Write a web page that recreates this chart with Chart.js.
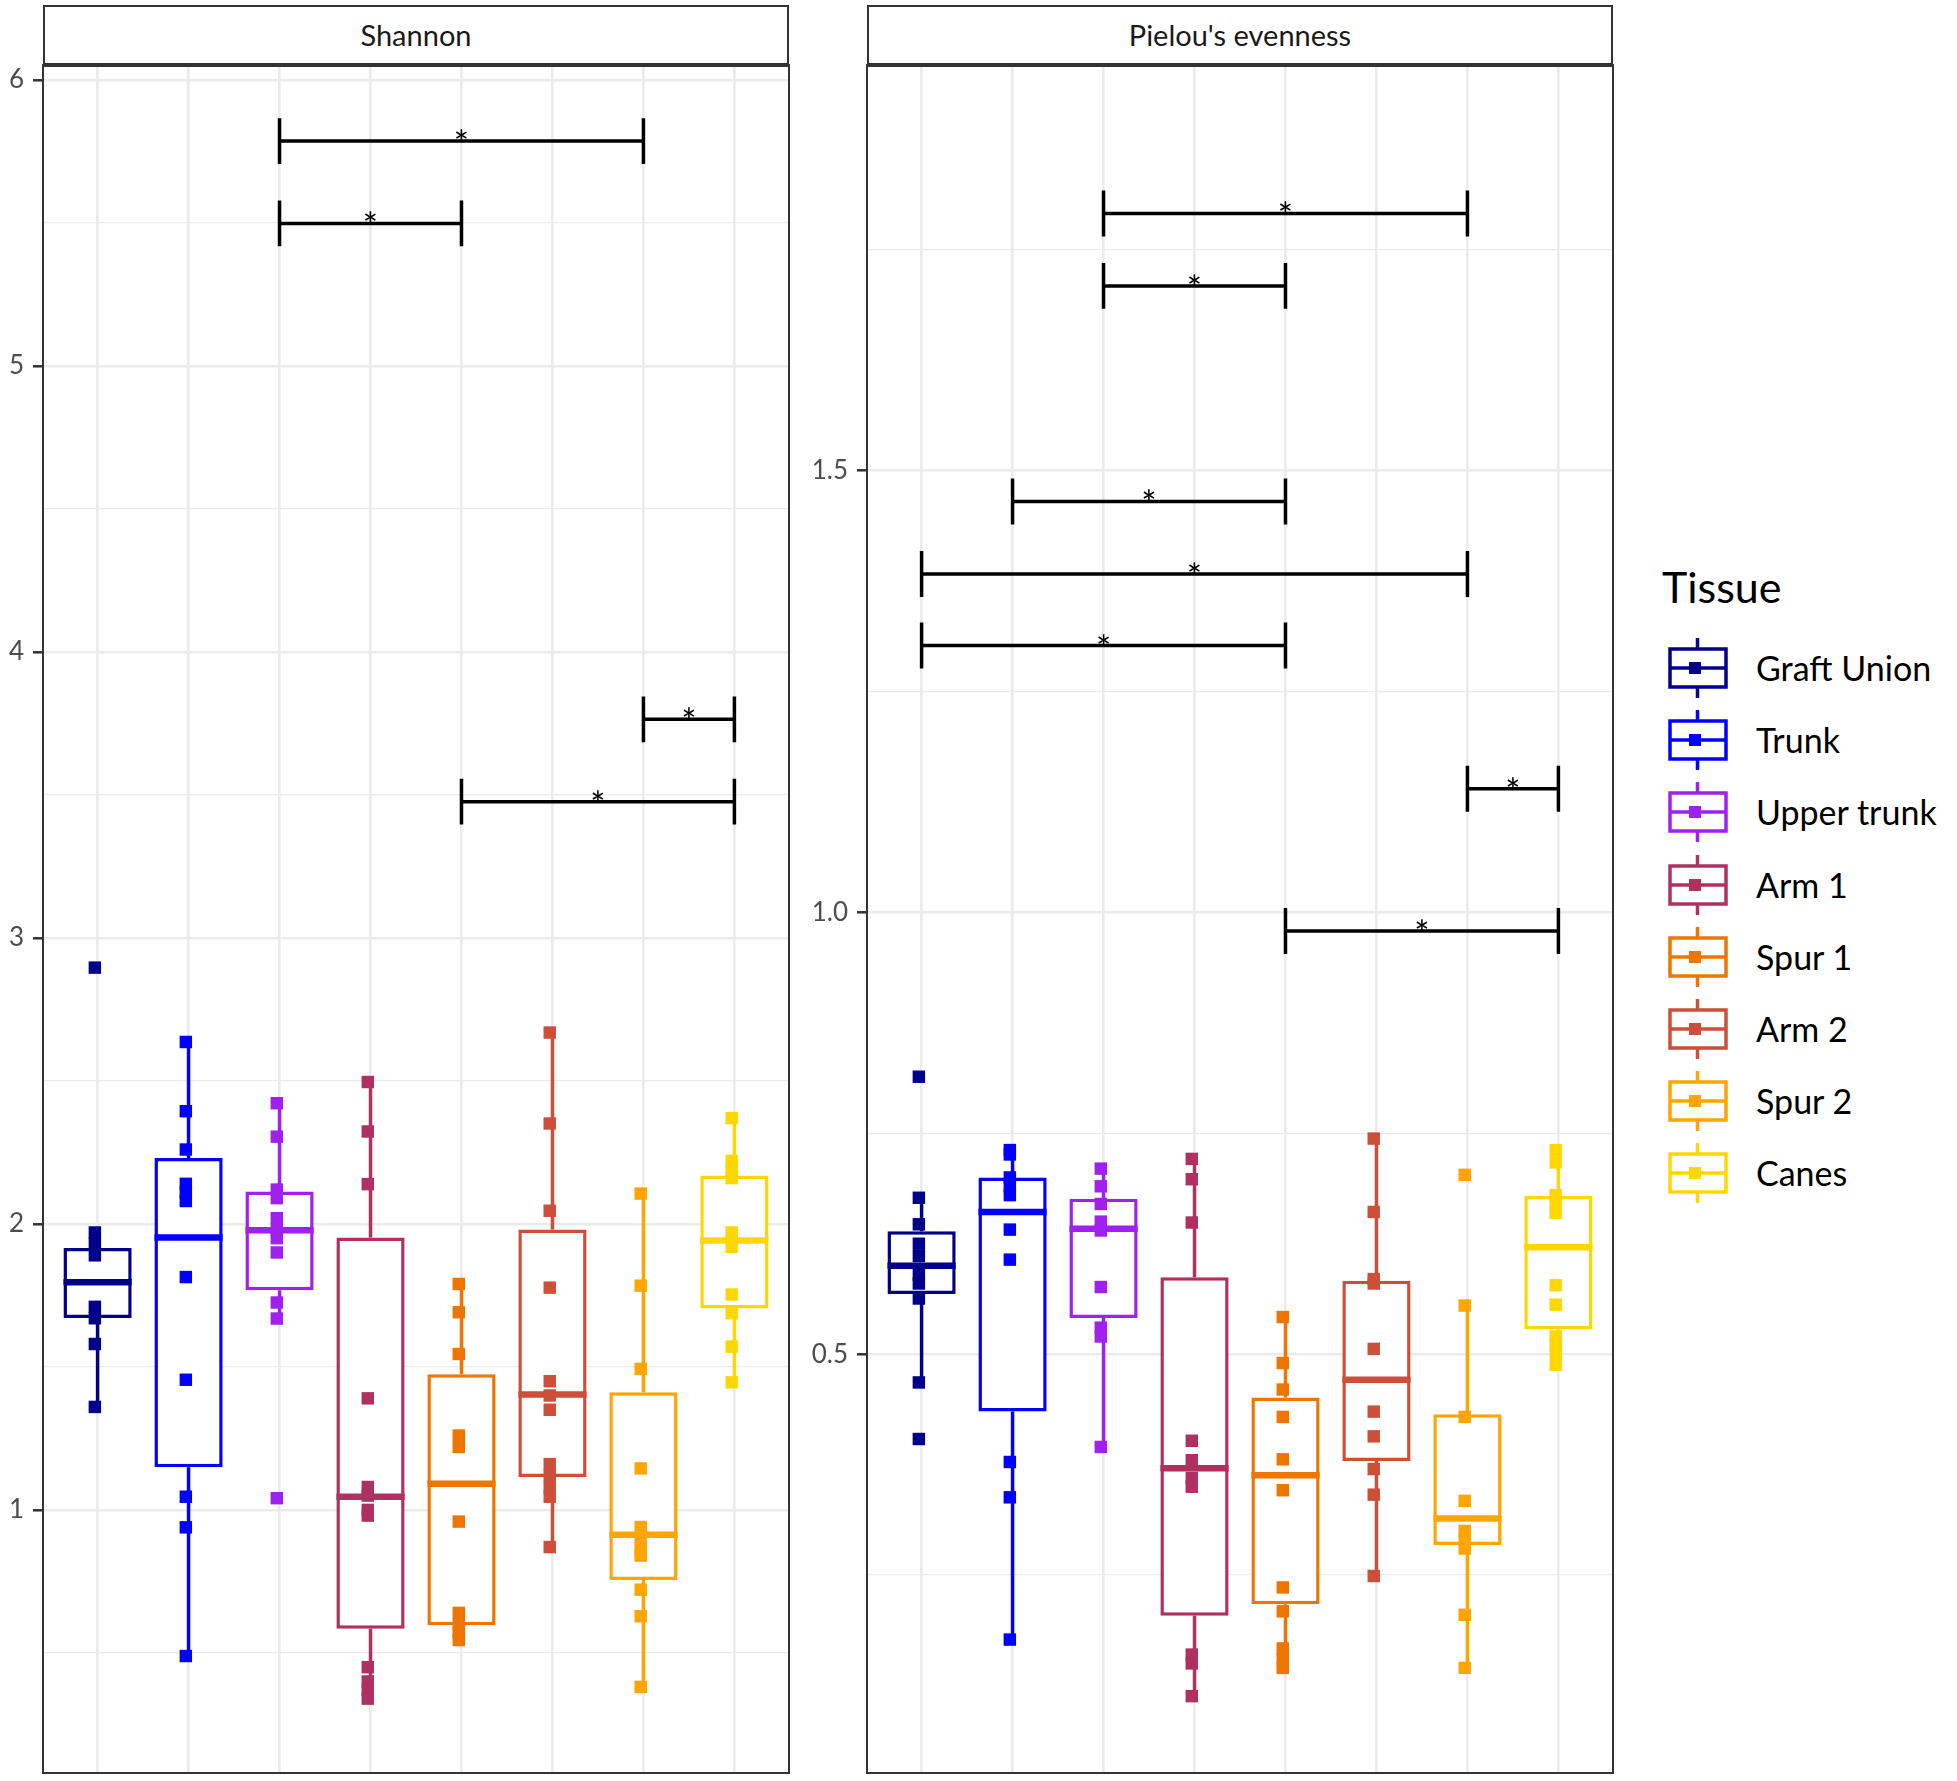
<!DOCTYPE html>
<html><head><meta charset="utf-8">
<script src="https://cdn.jsdelivr.net/npm/chart.js@4.4.1/dist/chart.umd.min.js"></script>
<style>
html,body{margin:0;padding:0;background:#fff;}
body{width:1957px;height:1781px;position:relative;overflow:hidden;font-family:Lato,'Open Sans',sans-serif;}
.strip{position:absolute;box-sizing:border-box;background:#fff;border:2px solid #333;border-bottom:4px solid #333;text-align:center;color:#1a1a1a;font-size:29px;}
canvas{position:absolute;}
.ltitle{position:absolute;font-size:43px;color:#000;line-height:50px;}
.lrow{position:absolute;height:72px;}
.lrow span{position:absolute;left:89px;top:0;line-height:72px;font-size:34px;color:#000;white-space:nowrap;}
.lrow canvas{position:absolute;left:0;top:0;}
</style></head>
<body>
<canvas id="c1" width="795" height="1720" style="left:0px;top:60px;width:795px;height:1720px"></canvas>
<canvas id="c2" width="840" height="1720" style="left:780px;top:60px;width:840px;height:1720px"></canvas>
<div class="strip" style="left:43px;top:5px;width:746px;height:62px;line-height:56px">Shannon</div>
<div class="strip" style="left:867px;top:5px;width:746px;height:62px;line-height:56px">Pielou's evenness</div>
<div id="legend"></div>
<script>
// ---------- data ----------
const tissues = ['Graft Union','Trunk','Upper trunk','Arm 1','Spur 1','Arm 2','Spur 2','Canes'];
const tissueColors = ['#00008B','#0000FF','#A020F0','#B03060','#EE7600','#CD4F39','#FFA500','#FFD700'];

// Shannon box statistics
const shannonQ1  = [1.671, 1.149, 1.768, 0.584, 0.597, 1.115, 0.755, 1.704];
const shannonMed = [1.796, 1.952, 1.978, 1.046, 1.091, 1.403, 0.913, 1.942];
const shannonQ3  = [1.916, 2.230, 2.113, 1.952, 1.474, 1.980, 1.411, 2.169];
const shannonLo  = [1.359, 0.489, 1.669, 0.340, 0.545, 0.870, 0.381, 1.446];
const shannonHi  = [1.970, 2.636, 2.422, 2.496, 1.790, 2.669, 2.106, 2.370];
const shannonPoints = [
  [2.896, 1.97, 1.93, 1.89, 1.71, 1.67, 1.58, 1.36],
  [2.636, 2.394, 2.26, 2.14, 2.11, 2.08, 1.814, 1.455, 1.046, 0.939, 0.489],
  [2.422, 2.305, 2.12, 2.09, 2.02, 1.98, 1.95, 1.90, 1.725, 1.669, 1.041],
  [2.496, 2.323, 2.139, 1.390, 1.08, 1.05, 1.00, 0.98, 0.45, 0.40, 0.37, 0.34],
  [1.79, 1.691, 1.545, 1.26, 1.22, 0.959, 0.64, 0.60, 0.57, 0.545],
  [2.669, 2.351, 2.046, 1.777, 1.45, 1.40, 1.35, 1.16, 1.12, 1.08, 1.046, 0.870],
  [2.106, 1.784, 1.493, 1.145, 0.94, 0.90, 0.86, 0.84, 0.721, 0.628, 0.381],
  [2.370, 2.22, 2.19, 2.16, 1.97, 1.94, 1.92, 1.753, 1.688, 1.571, 1.446]
];
const shannonSigFrom = [3, 3, 7, 5];
const shannonSigTo   = [7, 5, 8, 8];
const shannonSigY    = [5.786, 5.498, 3.764, 3.476];
const shannonMajorTicks = [1, 2, 3, 4, 5, 6];
const shannonMinorTicks = [0.5, 1.5, 2.5, 3.5, 4.5, 5.5];

// Pielou box statistics
const pielouQ1  = [0.568, 0.435, 0.541, 0.204, 0.217, 0.379, 0.284, 0.528];
const pielouMed = [0.600, 0.661, 0.642, 0.371, 0.363, 0.471, 0.314, 0.621];
const pielouQ3  = [0.639, 0.700, 0.676, 0.587, 0.451, 0.583, 0.432, 0.679];
const pielouLo  = [0.468, 0.177, 0.395, 0.113, 0.145, 0.249, 0.145, 0.484];
const pielouHi  = [0.677, 0.731, 0.710, 0.721, 0.542, 0.744, 0.555, 0.731];
const pielouPoints = [
  [0.814, 0.677, 0.647, 0.625, 0.611, 0.59, 0.58, 0.563, 0.468, 0.404],
  [0.731, 0.726, 0.70, 0.69, 0.68, 0.641, 0.607, 0.378, 0.338, 0.177],
  [0.710, 0.69, 0.67, 0.65, 0.64, 0.576, 0.53, 0.52, 0.395],
  [0.721, 0.698, 0.649, 0.402, 0.38, 0.36, 0.35, 0.16, 0.15, 0.113],
  [0.542, 0.490, 0.460, 0.429, 0.381, 0.346, 0.236, 0.209, 0.167, 0.155, 0.145],
  [0.744, 0.661, 0.585, 0.58, 0.506, 0.435, 0.407, 0.370, 0.341, 0.249],
  [0.703, 0.555, 0.429, 0.334, 0.30, 0.29, 0.28, 0.205, 0.145],
  [0.731, 0.717, 0.68, 0.67, 0.66, 0.578, 0.556, 0.52, 0.51, 0.50, 0.488]
];
const pielouSigFrom = [3, 3, 2, 1, 1, 7, 5];
const pielouSigTo   = [7, 5, 5, 7, 5, 8, 8];
const pielouSigY    = [1.791, 1.709, 1.465, 1.383, 1.302, 1.140, 0.979];
const pielouMajorTicks = [0.5, 1.0, 1.5];
const pielouMinorTicks = [0.25, 0.75, 1.25, 1.75];

const sigLabel = '*';

// ---------- rendering ----------
const BOX_HALF = 0.375;
const PT_SHIFT = -0.03;

function makePanel(canvasId, p) {
  const ds = [];
  // significance brackets
  p.sigFrom.forEach((f, k) => {
    const t = p.sigTo[k], y = p.sigY[k], tip = p.tip;
    ds.push({type:'line', order:0, data:[{x:f,y:y+tip},{x:f,y:y-tip},{x:f,y:y},{x:t,y:y},{x:t,y:y+tip},{x:t,y:y-tip}],
      borderColor:'#000', borderWidth:3.5, pointRadius:0, fill:false, tension:0, borderJoinStyle:'miter'});
  });
  tissues.forEach((name, i) => {
    const cx = i + 1, col = tissueColors[i];
    // points
    ds.push({type:'scatter', order:1, data:p.points[i].map(v => ({x:cx+PT_SHIFT, y:v})),
      pointStyle:'rect', pointRadius:8.8, backgroundColor:col, borderWidth:0, showLine:false});
    // median
    ds.push({type:'line', order:2, data:[{x:cx-BOX_HALF,y:p.med[i]},{x:cx+BOX_HALF,y:p.med[i]}],
      borderColor:col, borderWidth:6.5, pointRadius:0, fill:false, borderCapStyle:'butt'});
    // whiskers
    ds.push({type:'line', order:4, data:[{x:cx,y:p.lo[i]},{x:cx,y:p.q1[i]},{x:cx,y:null},{x:cx,y:p.q3[i]},{x:cx,y:p.hi[i]}],
      borderColor:col, borderWidth:3.5, pointRadius:0, fill:false, spanGaps:false});
  });
  // boxes
  ds.push({type:'bar', order:3, data:p.q1.map((a,i) => ({x:i+1, y:[a, p.q3[i]]})),
    backgroundColor:'#ffffff', borderColor:tissueColors, borderWidth:3.5, borderSkipped:false,
    barPercentage:0.75, categoryPercentage:1});

  const allTicks = p.minor.concat(p.major).sort((a,b)=>a-b);
  const isMajor = v => p.major.some(m => Math.abs(m - v) < 1e-9);

  const framePlugin = {
    id:'frame',
    afterDatasetsDraw(chart) {
      const ctx = chart.ctx, xs = chart.scales.x, ys = chart.scales.y;
      ctx.save();
      ctx.fillStyle = '#000';
      ctx.font = '36px Lato';
      ctx.textAlign = 'center';
      ctx.textBaseline = 'alphabetic';
      p.sigFrom.forEach((f, k) => {
        const x = xs.getPixelForValue((f + p.sigTo[k]) / 2);
        const y = ys.getPixelForValue(p.sigY[k]);
        ctx.fillText(sigLabel, x, y + 16);
      });
      ctx.restore();
    },
    afterDraw(chart) {
      const a = chart.chartArea, ctx = chart.ctx;
      ctx.save();
      ctx.strokeStyle = '#333';
      ctx.lineWidth = 2;
      ctx.strokeRect(a.left, a.top, a.right - a.left, a.bottom - a.top);
      ctx.restore();
    }
  };

  const noPad = s => { s.paddingTop = 0; s.paddingBottom = 0; s.paddingLeft = 0; s.paddingRight = 0; };

  return new Chart(document.getElementById(canvasId), {
    type:'line',
    data:{datasets:ds},
    options:{
      responsive:false, animation:false, devicePixelRatio:1, events:[],
      layout:{padding:p.padding, autoPadding:false},
      plugins:{legend:{display:false}, tooltip:{enabled:false}},
      scales:{
        x:{type:'linear', min:0.4, max:8.6, offset:false,
          afterBuildTicks:s => { s.ticks = tissues.map((t,i) => ({value:i+1})); },
          afterFit:s => { s.height = 0; noPad(s); },
          ticks:{display:false},
          grid:{color:'#ebebeb', lineWidth:2.6, drawTicks:false, offset:false},
          border:{display:false}},
        y:{type:'linear', min:p.yMin, max:p.yMax,
          afterBuildTicks:s => { s.ticks = allTicks.map(v => ({value:v})); },
          afterFit:s => { s.width = p.axisWidth; noPad(s); },
          ticks:{autoSkip:false, color:'#4d4d4d', font:{family:'Lato', size:26}, padding:9,
            callback:v => isMajor(v) ? p.fmt(v) : ''},
          grid:{color:'#ebebeb', offset:false,
            lineWidth:c => (c.tick && isMajor(c.tick.value)) ? 2.6 : 1.3,
            tickColor:c => (c.tick && isMajor(c.tick.value)) ? '#333' : 'rgba(0,0,0,0)',
            tickWidth:2.5, tickLength:10, drawTicks:true},
          border:{display:false}}
      }
    },
    plugins:[framePlugin]
  });
}

makePanel('c1', {q1:shannonQ1, med:shannonMed, q3:shannonQ3, lo:shannonLo, hi:shannonHi, points:shannonPoints,
  sigFrom:shannonSigFrom, sigTo:shannonSigTo, sigY:shannonSigY, tip:0.080,
  yMin:0.080, yMax:6.052, major:shannonMajorTicks, minor:shannonMinorTicks, fmt:v => String(v),
  axisWidth:43, padding:{left:0, top:5, right:6, bottom:7}});

makePanel('c2', {q1:pielouQ1, med:pielouMed, q3:pielouQ3, lo:pielouLo, hi:pielouHi, points:pielouPoints,
  sigFrom:pielouSigFrom, sigTo:pielouSigTo, sigY:pielouSigY, tip:0.026,
  yMin:0.026, yMax:1.959, major:pielouMajorTicks, minor:pielouMinorTicks, fmt:v => v.toFixed(1),
  axisWidth:87, padding:{left:0, top:5, right:7, bottom:7}});

// ---------- legend ----------
(function(){
  const lg = document.getElementById('legend');
  const title = document.createElement('div');
  title.className = 'ltitle';
  title.textContent = 'Tissue';
  title.style.left = '1662px';
  title.style.top = '562px';
  lg.appendChild(title);
  tissues.forEach((name, i) => {
    const row = document.createElement('div');
    row.className = 'lrow';
    row.style.left = '1667px';
    row.style.top = (632 + i * 72.2) + 'px';
    const cv = document.createElement('canvas');
    cv.width = 62; cv.height = 72;
    const g = cv.getContext('2d');
    const col = tissueColors[i];
    g.strokeStyle = col; g.fillStyle = col; g.lineWidth = 3.5;
    g.beginPath(); g.moveTo(30.5, 6); g.lineTo(30.5, 17); g.moveTo(30.5, 55); g.lineTo(30.5, 66); g.stroke();
    g.strokeRect(3, 17, 56, 38);
    g.beginPath(); g.moveTo(3, 36); g.lineTo(59, 36); g.stroke();
    g.fillRect(22, 30, 12, 12);
    row.appendChild(cv);
    const sp = document.createElement('span');
    sp.textContent = name;
    row.appendChild(sp);
    lg.appendChild(row);
  });
})();
</script>
</body></html>
